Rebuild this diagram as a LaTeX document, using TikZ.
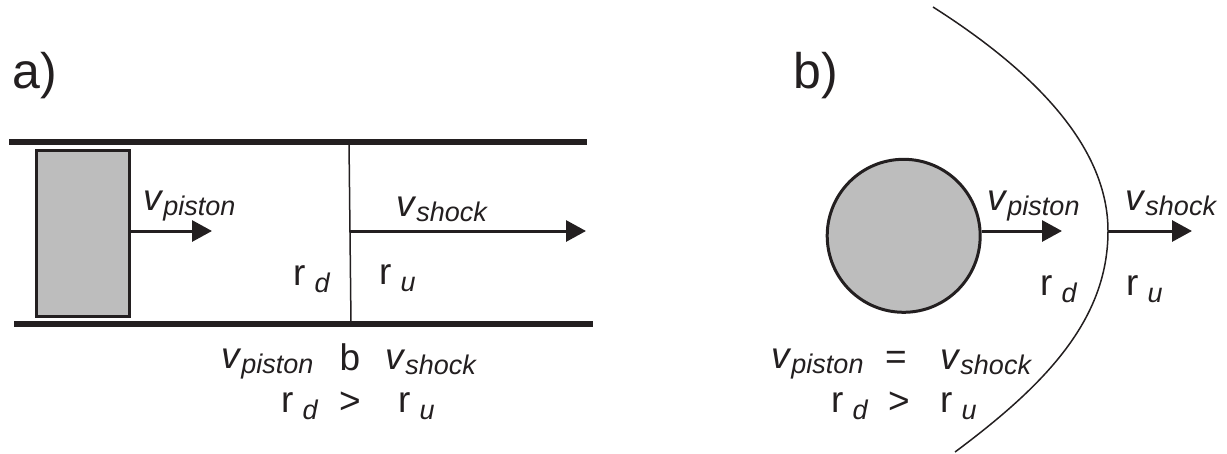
\documentclass[tikz,border=0pt]{standalone}
\usepackage{fontspec}
\setmainfont{Liberation Sans}
\usetikzlibrary{arrows.meta}
\definecolor{ink}{RGB}{35,31,32}
\definecolor{fillgray}{RGB}{189,189,189}
\newcommand{\vlab}[1]{\textit{v}\raisebox{-5pt}{\fontsize{27}{27}\selectfont\itshape #1}}
\newcommand{\rlab}[1]{r\hspace{9pt}\raisebox{-7pt}{\fontsize{27}{27}\selectfont\itshape #1}}
\begin{document}
\begin{tikzpicture}[x=1pt,y=-1pt,
  rail/.style={line width=6pt, draw=ink},
  front/.style={line width=1.5pt, draw=ink},
  motion/.style={line width=3pt, draw=ink, -{Triangle[length=20pt,width=21pt]}, fill=ink},
  body/.style={draw=ink, fill=fillgray, line width=3pt, inner sep=0pt},
  lab/.style={inner sep=0pt, anchor=base west, font=\fontsize{37}{37}\selectfont, text=ink},
  panel/.style={inner sep=0pt, anchor=base west, font=\fontsize{50}{50}\selectfont, text=ink}]
\useasboundingbox (0,0) rectangle (1227,453);

% ---------- panel a ----------
\node[panel] (la) at (12,88) {a)};
\coordinate (t1) at (9,142);   \coordinate (t2) at (587,142);
\coordinate (b1) at (14,323.5); \coordinate (b2) at (593,323.5);
\draw[rail] (t1) -- (t2);
\draw[rail] (b1) -- (b2);
\node[body, minimum width=93pt, minimum height=166pt] (piston) at (83,233.5) {};
\coordinate (pa) at (212,231);
\draw[motion] (piston.east |- pa) -- (pa);
\coordinate (s1) at (349,142); \coordinate (s2) at (351,323.5);
\draw[front] (s1) -- (s2);
\coordinate (sa0) at (350.3,231); \coordinate (sa) at (586,231);
\draw[motion] (sa0) -- (sa);
\node[lab] (avp) at (143,210) {\vlab{piston}};
\node[lab] (avs) at (396,216) {\vlab{shock}};
\node[lab] (ard) at (293,285) {\rlab{d}};
\node[lab] (aru) at (379,284) {\rlab{u}};
\node[lab] (bvp) at (221,368) {\vlab{piston}};
\node[lab] (bb)  at (339.5,370) {b};
\node[lab] (bvs) at (385,369) {\vlab{shock}};
\node[lab] (brd) at (281,412) {\rlab{d}};
\node[lab] (bgt) at (339,413) {>};
\node[lab] (bru) at (398,412) {\rlab{u}};

% ---------- panel b ----------
\node[panel] (lb) at (793,88) {b)};
\node[body, circle, minimum size=153pt] (ball) at (903.7,235.8) {};
\coordinate (ba) at (1062,231);
\draw[motion] (ball.east |- ba) -- (ba);
\coordinate (ftop) at (933,7);
\coordinate (fnose) at (1108,231);
\coordinate (fbot) at (955,452);
\draw[front] (ftop) .. controls (1040,75) and (1108,150) .. (fnose)
                    .. controls (1108,320) and (1045,385) .. (fbot);
\coordinate (fa) at (1192,231);
\draw[motion] (fnose) -- (fa);
\node[lab] (cvp) at (987,210) {\vlab{piston}};
\node[lab] (cvs) at (1125,210) {\vlab{shock}};
\node[lab] (crd) at (1040,295) {\rlab{d}};
\node[lab] (cru) at (1126,295) {\rlab{u}};
\node[lab] (dvp) at (771,368) {\vlab{piston}};
\node[lab] (deq) at (885,369) {=};
\node[lab] (dvs) at (940,369) {\vlab{shock}};
\node[lab] (drd) at (831,412) {\rlab{d}};
\node[lab] (dgt) at (888,413) {>};
\node[lab] (dru) at (940,412) {\rlab{u}};
\end{tikzpicture}
\end{document}
